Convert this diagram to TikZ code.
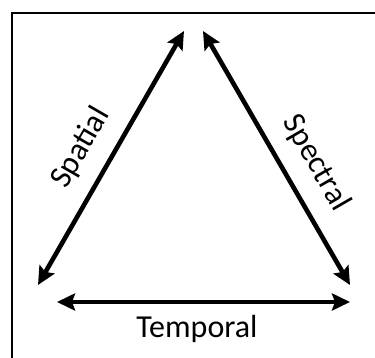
\documentclass[tikz,border=0pt]{standalone}
\usepackage{fontspec}
\setmainfont{Carlito}
\usetikzlibrary{arrows.meta}
\begin{document}
\begin{tikzpicture}[x=1pt,y=-1pt,
  dbl/.style={line width=4.6pt,{Stealth[length=18pt,width=17pt,inset=3pt]}-{Stealth[length=18pt,width=17pt,inset=3pt]}},
  lab/.style={font=\fontsize{32}{34}\selectfont,inner sep=0pt}]
\useasboundingbox (0,0) rectangle (375,358);
\draw[line width=2pt] (12,370) -- (12,13) -- (380,13);
\coordinate (top1) at (184,31);
\coordinate (top2) at (203,31);
\coordinate (bl) at (38,285);
\coordinate (br) at (350,285);
\coordinate (tl) at (57,302);
\coordinate (tr) at (350,302);
\draw[dbl] (bl) -- (top1);
\draw[dbl] (top2) -- (br);
\draw[dbl] (tl) -- (tr);
\node[lab,rotate=60] (spatial) at (81,148) {Spatial};
\node[lab,rotate=-60] (spectral) at (316,163) {Spectral};
\node[lab,anchor=base] (temporal) at (197,337) {Temporal};
\end{tikzpicture}
\end{document}
